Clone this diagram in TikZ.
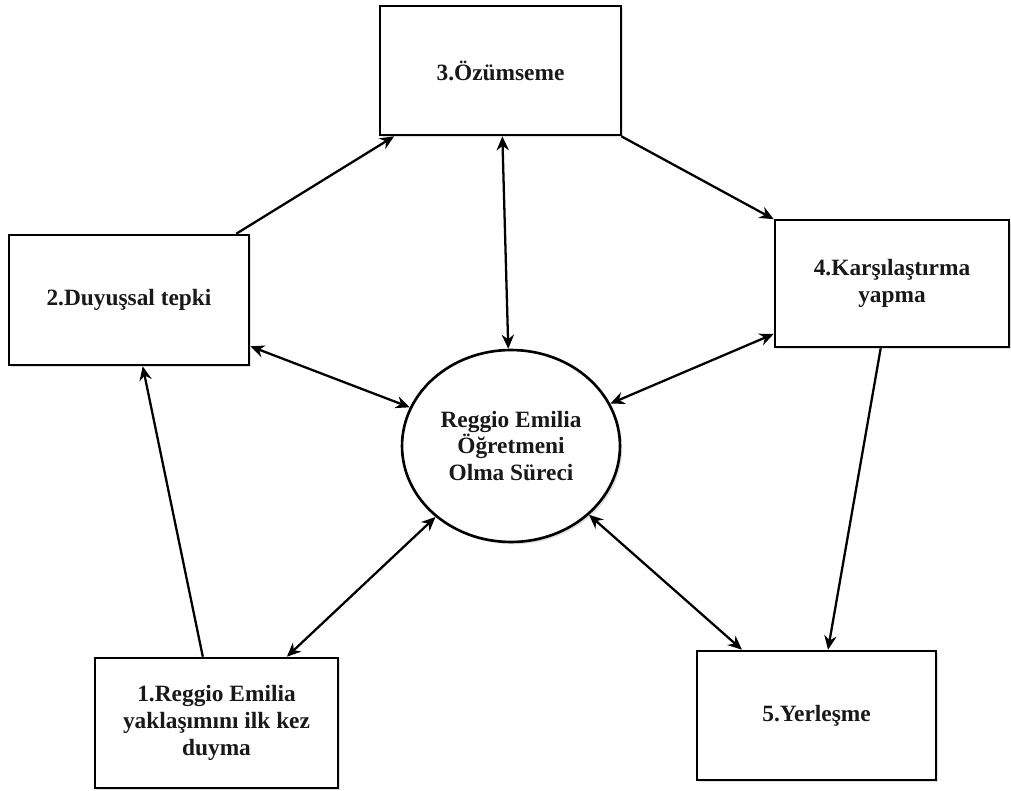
\documentclass[tikz,border=0pt]{standalone}
\usepackage{fontspec}
\setmainfont{Liberation Serif}
\usetikzlibrary{arrows.meta,shapes.geometric,shadows}
\begin{document}
\begin{tikzpicture}[x=0.02cm,y=-0.02cm,
  every node/.style={font=\fontsize{13.3}{15.2}\selectfont\bfseries, align=center, text=black!90},
  stagebox/.style={draw, line width=1.5pt, rectangle, inner sep=2pt, fill=white,
    drop shadow={shadow xshift=1.3pt, shadow yshift=-1.3pt, opacity=0.12, fill=black}},
  centerell/.style={draw, line width=1.5pt, ellipse, inner sep=0pt, fill=white,
    minimum width=4.36cm, minimum height=3.84cm,
    drop shadow={shadow xshift=1.3pt, shadow yshift=-1.3pt, opacity=0.12, fill=black}},
  flow/.style={line width=1.3pt, -{Stealth[length=8pt,width=7pt]}},
  twoway/.style={line width=1.3pt, {Stealth[length=8pt,width=7pt]}-{Stealth[length=8pt,width=7pt]}}
]
\useasboundingbox (0,0) rectangle (1011,791);

\node[stagebox, minimum width=4.82cm, minimum height=2.58cm] (b3) at (500.5,70.5) {3.Özümseme};
\node[stagebox, minimum width=4.80cm, minimum height=2.60cm] (b2) at (129,300) {2.Duyuşsal tepki};
\node[stagebox, minimum width=4.68cm, minimum height=2.54cm] (b4) at (892,283.5) {4.Karşılaştırma\\yapma};
\node[stagebox, minimum width=4.86cm, minimum height=2.60cm] (b1) at (216.5,723) {1.Reggio Emilia\\yaklaşımını ilk kez\\duyma};
\node[stagebox, minimum width=4.78cm, minimum height=2.58cm] (b5) at (816.5,715.5) {5.Yerleşme};
\node[centerell] (e) at (511,446) {Reggio Emilia\\Öğretmeni\\Olma Süreci};

\draw[flow] (b1) -- (b2);
\draw[flow] (b2) -- (b3);
\draw[flow] (b3) -- (b4);
\draw[flow] (b4) -- (b5);

\draw[twoway] (e) -- (b3);
\draw[twoway] (e) -- (b2);
\draw[twoway] (e) -- (b4);
\draw[twoway] (e) -- (b1);
\draw[twoway] (e) -- (b5);
\end{tikzpicture}
\end{document}
